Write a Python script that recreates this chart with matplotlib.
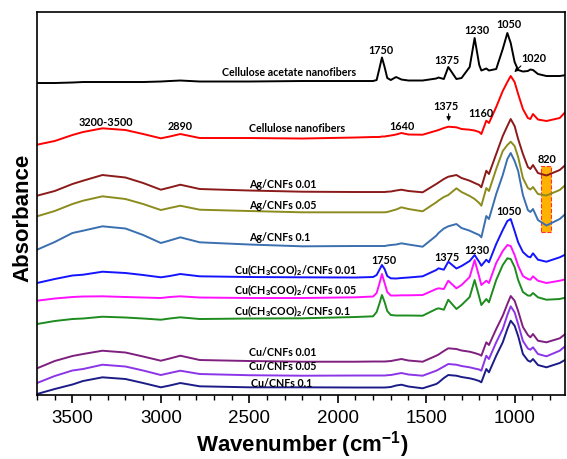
import matplotlib
matplotlib.use('Agg')
import matplotlib.pyplot as plt
import numpy as np
from matplotlib.patches import Rectangle

plt.rcParams['font.family'] = ['Liberation Sans', 'DejaVu Sans']
plt.rcParams['mathtext.fontset'] = 'custom'
plt.rcParams['mathtext.rm'] = 'Liberation Sans'
plt.rcParams['mathtext.bf'] = 'Liberation Sans:bold'

# Wavenumber grid (cm-1)
wavenumber = [3700, 3600, 3500, 3440, 3330, 3200, 3100, 3000, 2950, 2890,
              2780, 2500, 2200, 1900, 1800, 1780, 1765, 1750, 1735, 1720,
              1700, 1670, 1640, 1600, 1520, 1443, 1430, 1400, 1375, 1329,
              1300, 1254, 1226, 1200, 1188, 1160, 1145, 1104, 1067, 1041,
              1022, 1000, 980, 953, 925, 911, 896, 868, 820, 745, 706]

# Stacked absorbance (a.u.) of each sample
ca_nf = [312, 312, 312.5, 313, 313, 313, 313, 313.5, 314, 314.5,
         313.5, 313.5, 314, 314, 314, 315, 326, 337.5, 328, 317,
         315, 318, 315.5, 314.5, 314.5, 316.5, 317.5, 316, 328, 316,
         317, 328, 357, 330, 324.5, 326.5, 324.5, 326, 346, 362,
         352, 333, 325, 323.5, 324, 325.5, 325, 321, 319, 319, 320]
cnf = [250.3, 254, 260, 263, 266.7, 265, 261, 256.7, 258.5, 261,
       257, 257, 256.5, 257.5, 258, 258, 258, 258.5, 258.5, 259,
       259.5, 260.5, 262, 260.5, 260.3, 264.3, 265, 267, 268.3, 267.7,
       266, 265.3, 264.5, 263, 261, 274.3, 272, 288, 304, 313,
       319, 313, 301, 286, 277, 276, 281, 275.5, 274, 277, 284.3]
ag_001 = [199.3, 204, 211, 214.3, 220, 217.5, 212, 205.3, 207.5, 210.3,
          206, 204.5, 203.3, 203, 203, 203, 203, 203, 203, 203.3,
          203.5, 204.5, 205.3, 204, 202.7, 211, 212.5, 216, 218.3, 220,
          217, 214.3, 212, 210, 207.7, 224.3, 221, 241, 259, 269,
          276, 269, 256, 241, 228, 226, 230, 222, 219.5, 225, 231]
ag_005 = [178.7, 184, 191, 194.3, 198.7, 196, 191, 185, 187, 189.3,
          185.3, 184, 182.7, 182.7, 182.7, 182.7, 182.7, 182.7, 182.7, 183,
          184, 185.5, 187.7, 186, 183.7, 192.7, 194.5, 198, 200, 206.7,
          203, 199, 196, 192, 189.3, 207, 204, 226, 244, 250,
          253.3, 249, 238, 217, 207, 205.5, 208, 201, 199.5, 205, 211]
ag_01 = [145.3, 153, 162, 164.3, 168.7, 166.5, 160, 152, 154.5, 157.7,
         152.7, 150.5, 148.7, 149, 149, 149, 149, 149, 149, 149.5,
         150, 150.5, 151.7, 150.5, 148.3, 159.3, 162, 166.5, 168.7, 171,
         167, 164.3, 162, 160, 157.7, 179, 176, 201, 220, 236,
         242, 234, 224, 200, 185, 183, 186, 175, 169.5, 176, 182]
cuac_001 = [112, 116, 119.5, 120.3, 123.3, 122, 120, 117.7, 119, 121,
            118.7, 118, 117.7, 117.5, 118, 120, 125, 130, 126, 119,
            116.7, 116.5, 117, 117.5, 118.7, 125, 126.7, 125.3, 133.3, 126.5,
            129, 134, 140, 133, 129.3, 135.3, 132.7, 151, 165, 174,
            176, 164, 152.7, 143, 138.5, 137.7, 141.7, 135.3, 133.3, 137.7, 141]
cuac_005 = [94.3, 96.5, 98, 98.5, 98.7, 98, 97.5, 97, 98, 98.7,
            97.5, 97, 97, 97.7, 98.5, 102, 111, 121, 112, 103,
            99.5, 99.5, 99.7, 99.7, 100, 106, 106.7, 106, 114.3, 106.7,
            110, 118, 135, 118, 110, 114.3, 112, 132, 144, 150,
            149, 140, 129.3, 119, 116, 115.3, 118.7, 114.3, 112, 114.3, 116]
cuac_01 = [71, 74, 76, 76.5, 78.3, 77.5, 76.5, 75.3, 76.5, 77.7,
           76, 76.5, 76.7, 78, 78.7, 83, 91, 100, 93, 84,
           80, 79.5, 79.5, 79.5, 79.3, 86, 86.7, 85.3, 95.3, 86,
           90, 98, 115, 98, 90, 96, 92.7, 115, 130, 136.7,
           136, 128, 115, 103, 99.5, 99.3, 102, 97.7, 95.3, 96, 97.7]
cu_001 = [26.7, 34, 39, 41, 44.3, 42.5, 38.5, 34.3, 36.5, 39.3,
          35, 34, 33.3, 33.3, 33.5, 33.5, 33.5, 33.5, 33.5, 33.7,
          34, 35, 36, 34.5, 33.3, 39.3, 40.5, 44, 46.7, 46,
          44.5, 43.3, 42, 40.5, 39.3, 52.7, 50, 66, 79.3, 91,
          99, 94.3, 84, 68, 60, 57.7, 61, 54.3, 52.7, 56.7, 62]
cu_005 = [12, 19, 24.5, 26, 30.3, 28.5, 24.5, 20, 22, 24.3,
          21, 19.8, 19.3, 19.5, 19.5, 19.5, 19.5, 19.5, 19.5, 19.8,
          20, 21, 22, 20.5, 19.3, 24.3, 25.5, 28.5, 31, 30.3,
          29, 27.7, 26.5, 25.5, 24.3, 39.3, 36, 52.7, 66, 80,
          88.7, 82.7, 71, 54, 46.5, 45.3, 47.7, 41, 38.7, 44.3, 50]
cu_01 = [1, 6, 10.5, 14, 17.7, 16, 12, 7.7, 9.5, 12,
         8.7, 7.7, 7.7, 7.5, 7.5, 7.5, 7.5, 7.5, 7.5, 7.7,
         8, 9.5, 10.3, 8.5, 6.7, 11, 12.5, 17, 20, 19.3,
         18, 16.7, 15.5, 14, 12.7, 26, 22.7, 39.3, 52.7, 66,
         74.3, 69.3, 59, 41, 34.5, 33.3, 36, 30, 27.7, 32, 36]

series = [ca_nf, cnf, ag_001, ag_005, ag_01, cuac_001, cuac_005, cuac_01,
          cu_001, cu_005, cu_01]
colors = ['#000000', '#ff0000', '#8b1a1a', '#8c8c1e', '#3a6fb0', '#1414ff',
          '#ff10ff', '#1e8c1e', '#7f1f7f', '#8c35e8', '#1c1c88']

# sample names and where they sit (left edge wavenumber, height)
names = ['Cellulose acetate nanofibers', 'Cellulose nanofibers',
         'Ag/CNFs 0.01', 'Ag/CNFs 0.05', 'Ag/CNFs 0.1',
         r'Cu(CH$_\mathbf{3}$COO)$_\mathbf{2}$/CNFs 0.01',
         r'Cu(CH$_\mathbf{3}$COO)$_\mathbf{2}$/CNFs 0.05',
         r'Cu(CH$_\mathbf{3}$COO)$_\mathbf{2}$/CNFs 0.1',
         'Cu/CNFs 0.01', 'Cu/CNFs 0.05', 'Cu/CNFs 0.1']
name_x = [2656, 2502, 2502, 2502, 2502, 2586, 2586, 2586, 2502, 2502, 2488]
name_y = [323.7, 267.7, 211.7, 190.3, 158.7, 126, 106, 85.3, 43.3, 29.3, 12.7]

# band labels
bands = ['1750', '1375', '1230', '1050', '1020', '3200-3500', '2890', '1640',
         '1375', '1160', '820', '1050', '1750', '1375', '1230']
band_x = [1754, 1382, 1213, 1035, 894, 3311, 2891, 1636,
          1390, 1192, 816, 1034, 1740, 1384, 1215]
band_y = [345.3, 335.3, 365.3, 372, 337.7, 273.3, 269.3, 269.3,
          290, 282.7, 237, 184.3, 136, 138.7, 145.3]

fig = plt.figure(figsize=(5.67, 4.60), dpi=100)
ax = fig.add_axes([0.0653, 0.1391, 0.9312, 0.8337])

for y, c in zip(series, colors):
    ax.plot(wavenumber, y, color=c, linewidth=1.4)

name_font = dict(family=['Lato', 'DejaVu Sans'], fontweight='bold', fontsize=7.7)
band_font = dict(family=['Lato', 'DejaVu Sans'], fontweight='bold', fontsize=7.8)
for t, x, y in zip(names, name_x, name_y):
    ax.text(x, y, t, ha='left', va='center', **name_font)
for t, x, y in zip(bands, band_x, band_y):
    ax.text(x, y, t, ha='center', va='center', **band_font)

# arrows for 1020 and 1375
ax.annotate('', xy=(1013, 321), xytext=(953, 331),
            arrowprops=dict(arrowstyle='-|>', color='black', lw=0.8, mutation_scale=6))
ax.annotate('', xy=(1373, 271), xytext=(1373, 284),
            arrowprops=dict(arrowstyle='-|>', color='black', lw=0.8, mutation_scale=6))

# highlighted 820 band
ax.add_patch(Rectangle((850, 162.7), -57, 66.6, facecolor='#ffb300',
                       edgecolor='#ff3030', linestyle='--', linewidth=0.8, zorder=1))

ax.set_xlim(3700, 715)
ax.set_ylim(0, 383.5)
ax.set_xticks([3500, 3000, 2500, 2000, 1500, 1000])
ax.set_xticks(np.arange(800, 3701, 100), minor=True)
ax.set_yticks([])
ax.tick_params(axis='x', which='major', length=6, width=1.2, direction='out',
               labelsize=13.5, pad=4)
ax.tick_params(axis='x', which='minor', length=3.6, width=1.0, direction='out')
for s in ax.spines.values():
    s.set_linewidth(1.2)

fig.text(301.7 / 567, 1 - 452 / 460, r'Wavenumber (cm$^{\mathbf{-1}}$)',
         ha='center', va='baseline', fontsize=16, fontweight='bold')
fig.text(28 / 567, 1 - 218 / 460, 'Absorbance', rotation=90, rotation_mode='anchor',
         ha='center', va='baseline', fontsize=16, fontweight='bold')

plt.savefig('out.png', dpi=100)
